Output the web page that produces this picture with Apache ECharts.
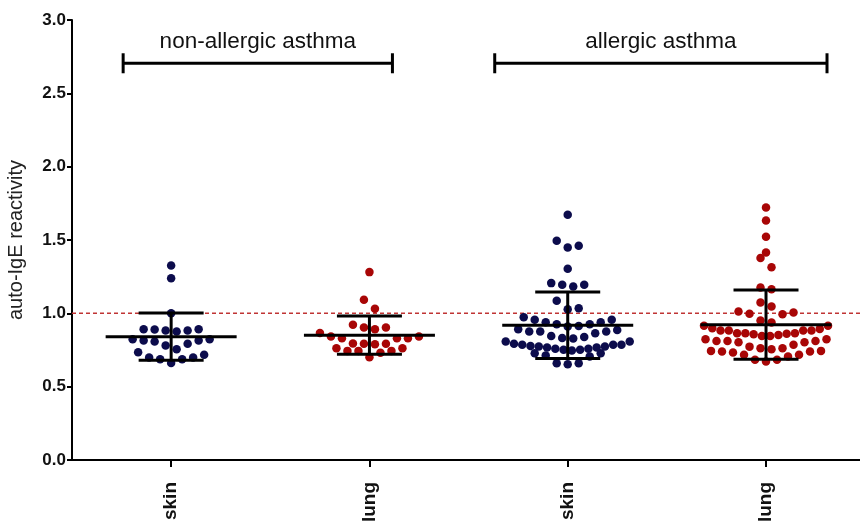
<!DOCTYPE html>
<html>
<head>
<meta charset="utf-8">
<script src="https://cdn.jsdelivr.net/npm/echarts@6/dist/echarts.min.js"></script>
<style>
  html, body { margin: 0; padding: 0; background: #ffffff; }
  #chart { width: 860px; height: 524px; }
</style>
</head>
<body>
<div id="chart"></div>
<script>
// Column labels along the x axis and the two patient groups above them
const categories = ['skin', 'lung', 'skin', 'lung'];
const groupNames = ['non-allergic asthma', 'allergic asthma'];
const groupSpans = [[0, 1], [2, 3]];

// auto-IgE reactivity per patient
const nonAllergicSkin = [
  1.326, 1.240, 1.001,
  0.892, 0.883, 0.876, 0.883, 0.892, 0.890,
  0.824, 0.815, 0.808, 0.780, 0.755, 0.792, 0.815, 0.824,
  0.735, 0.699, 0.687, 0.662, 0.687, 0.699, 0.717
];
const nonAllergicLung = [
  1.281, 1.092, 1.031,
  0.903, 0.892, 0.903, 0.922,
  0.790, 0.792, 0.792, 0.794, 0.830, 0.830, 0.830, 0.842, 0.842, 0.866,
  0.701, 0.732, 0.744, 0.744, 0.744, 0.762, 0.762
];
const allergicSkin = [
  1.672,
  1.449, 1.461, 1.495,
  1.304,
  1.183, 1.195, 1.195, 1.206,
  1.028, 1.035, 1.085,
  0.910, 0.914, 0.926, 0.926, 0.940, 0.940, 0.956, 0.956, 0.974,
  0.828, 0.832, 0.838, 0.845, 0.865, 0.876, 0.876, 0.876, 0.887, 0.892,
  0.746, 0.751, 0.751, 0.758, 0.758, 0.767, 0.767, 0.774, 0.774, 0.778,
  0.785, 0.785, 0.785, 0.792, 0.808, 0.808,
  0.653, 0.660, 0.660, 0.705, 0.712, 0.728, 0.728
];
const allergicLung = [
  1.722, 1.633, 1.522, 1.415, 1.377, 1.315, 1.176, 1.165,
  1.074, 1.047, 1.013, 1.005, 0.997, 0.994, 0.951, 0.937,
  0.915, 0.894, 0.883, 0.883, 0.865, 0.865, 0.853, 0.846,
  0.846, 0.858, 0.860, 0.865, 0.883, 0.883, 0.899, 0.915,
  0.824, 0.812, 0.812, 0.803, 0.773, 0.762, 0.755, 0.762,
  0.785, 0.803, 0.812, 0.824,
  0.744, 0.739, 0.733, 0.717, 0.683, 0.671, 0.683, 0.705,
  0.717, 0.739, 0.744
];

const yTickStep = 0.5;
const yMin = 0;
const yMax = 3;
const referenceLevel = 1.0;

const groups = [nonAllergicSkin, nonAllergicLung, allergicSkin, allergicLung];
const dotColors = ['#0c0c4c', '#a80606', '#0c0c4c', '#a80606'];

// Beeswarm layout: sorted values are gathered into rows of similar height,
// then spread sideways (centre, right, left, ...) with a fixed pixel step,
// squeezed when a row gets wider than the column allows.
function swarm(values, rowHeight, stepPx, maxWidthPx) {
  const sorted = values.slice().sort((a, b) => a - b);
  const out = [];
  let i = 0;
  while (i < sorted.length) {
    const start = sorted[i];
    const row = [];
    while (i < sorted.length && sorted[i] < start + rowHeight - 1e-9) {
      row.push(sorted[i]);
      i++;
    }
    const n = row.length;
    const gap = n > 1 ? Math.min(stepPx, maxWidthPx / (n - 1)) : 0;
    row.forEach((v, k) => {
      let slot;
      if (n % 2) {
        slot = k === 0 ? 0 : (k % 2 ? 1 : -1) * Math.ceil(k / 2);
      } else {
        slot = (k % 2 === 0 ? 1 : -1) * (Math.floor(k / 2) + 0.5);
      }
      out.push({ v: v, dx: slot * gap });
    });
  }
  return out;
}

function meanSd(values) {
  const n = values.length;
  const m = values.reduce((a, b) => a + b, 0) / n;
  const ss = values.reduce((a, b) => a + (b - m) * (b - m), 0);
  return { mean: m, sd: Math.sqrt(ss / (n - 1)) };
}

const stats = groups.map(meanSd);

const dotSeries = groups.map((vals, g) => ({
  type: 'scatter',
  symbol: 'circle',
  symbolSize: 8.5,
  itemStyle: { color: dotColors[g], opacity: 1 },
  z: 2,
  silent: true,
  data: swarm(vals, 0.08, 11, 124).map(p => ({
    value: [g, p.v],
    symbolOffset: [p.dx, 0]
  }))
}));

const labelFont = 'Liberation Sans, Arial, Helvetica, sans-serif';

const chart = echarts.init(document.getElementById('chart'), null, { renderer: 'canvas' });

chart.setOption({
  backgroundColor: '#ffffff',
  animation: false,
  grid: {
    left: 72, right: 0, top: 20, bottom: 64,
    containLabel: false,
    outerBoundsMode: 'none'
  },
  xAxis: {
    type: 'value',
    min: -0.5,
    max: 3.474,
    splitLine: { show: false },
    axisLine: { show: true, onZero: false, lineStyle: { color: '#000', width: 2 } },
    axisTick: {
      show: true,
      customValues: [0, 1, 2, 3],
      length: 7,
      inside: false,
      lineStyle: { color: '#000', width: 2 }
    },
    axisLabel: {
      show: true,
      customValues: [0, 1, 2, 3],
      formatter: v => categories[Math.round(v)],
      rotate: 90,
      margin: 22,
      fontFamily: labelFont,
      fontWeight: 'bold',
      fontSize: 19,
      color: '#111'
    }
  },
  yAxis: {
    type: 'value',
    min: yMin,
    max: yMax,
    interval: yTickStep,
    name: 'auto-IgE reactivity',
    nameLocation: 'middle',
    nameGap: 46,
    nameTextStyle: { fontFamily: labelFont, fontSize: 20, color: '#222' },
    splitLine: { show: false },
    axisLine: { show: true, onZero: false, lineStyle: { color: '#000', width: 2 } },
    axisTick: { show: true, length: 5, lineStyle: { color: '#000', width: 2 } },
    axisLabel: {
      formatter: v => v.toFixed(1),
      margin: 6,
      fontFamily: labelFont,
      fontWeight: 'bold',
      fontSize: 17,
      color: '#111'
    }
  },
  series: [
    {
      // dashed reference level across the plot
      type: 'custom',
      z: 1,
      silent: true,
      clip: false,
      data: [[referenceLevel]],
      encode: { y: 0 },
      renderItem: (params, api) => {
        const cs = params.coordSys;
        const y = api.coord([0, api.value(0)])[1];
        return {
          type: 'line',
          shape: { x1: cs.x, y1: y, x2: cs.x + cs.width, y2: y },
          style: { stroke: '#c03434', lineWidth: 1.5, lineDash: [4, 3] }
        };
      }
    },
    ...dotSeries,
    {
      // mean with SD whiskers for each column
      type: 'custom',
      z: 5,
      silent: true,
      clip: false,
      data: stats.map((s, i) => [i, s.mean, s.sd]),
      renderItem: (params, api) => {
        const g = api.value(0), m = api.value(1), s = api.value(2);
        const c = api.coord([g, m]);
        const hi = api.coord([g, m + s]);
        const lo = api.coord([g, m - s]);
        const st = { stroke: '#000', lineWidth: 3 };
        const meanHalf = 65.5, capHalf = 32.5;
        return {
          type: 'group',
          children: [
            { type: 'line', shape: { x1: c[0], y1: hi[1], x2: c[0], y2: lo[1] }, style: st },
            { type: 'line', shape: { x1: c[0] - meanHalf, y1: c[1], x2: c[0] + meanHalf, y2: c[1] }, style: st },
            { type: 'line', shape: { x1: c[0] - capHalf, y1: hi[1], x2: c[0] + capHalf, y2: hi[1] }, style: st },
            { type: 'line', shape: { x1: c[0] - capHalf, y1: lo[1], x2: c[0] + capHalf, y2: lo[1] }, style: st }
          ]
        };
      }
    },
    {
      // group brackets with their titles
      type: 'custom',
      z: 6,
      silent: true,
      clip: false,
      data: groupSpans.map(s => [s[0], s[1]]),
      renderItem: (params, api) => {
        const pads = [[48, 23], [73, 61]][params.dataIndex];
        const level = 2.705;
        const a = api.coord([api.value(0), level]);
        const b = api.coord([api.value(1), level]);
        const x1 = a[0] - pads[0], x2 = b[0] + pads[1], y = a[1];
        const st = { stroke: '#000', lineWidth: 3 };
        return {
          type: 'group',
          children: [
            { type: 'line', shape: { x1: x1, y1: y, x2: x2, y2: y }, style: st },
            { type: 'line', shape: { x1: x1, y1: y - 10, x2: x1, y2: y + 10 }, style: st },
            { type: 'line', shape: { x1: x2, y1: y - 10, x2: x2, y2: y + 10 }, style: st },
            {
              type: 'text',
              x: (x1 + x2) / 2,
              y: y - 21,
              style: {
                text: groupNames[params.dataIndex],
                fill: '#111',
                font: '22.5px ' + labelFont,
                textAlign: 'center',
                textVerticalAlign: 'middle'
              }
            }
          ]
        };
      }
    }
  ]
});
</script>
</body>
</html>
